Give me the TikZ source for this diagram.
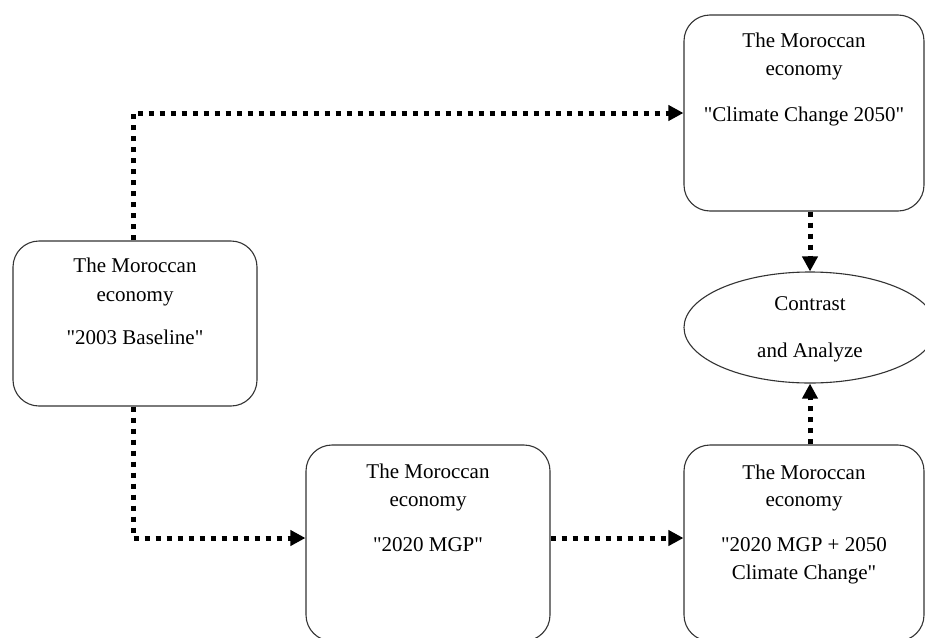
\documentclass[tikz,border=0pt]{standalone}
\usepackage{fontspec}
\setmainfont{Liberation Serif}[Ligatures=TeXOff]
\usetikzlibrary{arrows.meta,shapes.geometric,calc}
\newcommand\dq{\char34\relax}
\begin{document}
\begin{tikzpicture}[x=1pt,y=-1pt,
  box/.style={draw=black!80,line width=1.1pt,rounded corners=26pt,fill=white,minimum width=244pt,inner sep=0pt},
  oval/.style={draw=black!80,line width=1.1pt,ellipse,fill=white,minimum width=252pt,minimum height=111pt,inner sep=0pt},
  txt/.style={anchor=base,inner sep=0pt,font=\fontsize{21}{25}\selectfont},
  link/.style={line width=5pt,dash pattern=on 5pt off 6pt,black,-{Triangle[length=15pt,width=15pt]}}
]
\path[use as bounding box,clip] (0,0) rectangle (925,637);
\fill[white] (0,0) rectangle (925,637);
% boxes
\node[box,minimum height=165pt] (b1) at (135,323.5) {};
\node[box,minimum width=240pt,minimum height=196pt] (tr) at (804,113) {};
\node[box,minimum height=196pt] (mgp) at (428,543) {};
\node[box,minimum width=240pt,minimum height=196pt] (br) at (804,543) {};
\node[oval] (el) at (810,327.5) {};
% texts
\node[txt] (b1a) at ($(b1.north)+(0,32)$) {The Moroccan};
\node[txt] (b1b) at ($(b1.north)+(0,61)$) {economy};
\node[txt] (b1c) at ($(b1.north)+(0,104)$) {\dq2003 Baseline\dq};
\node[txt] (tra) at ($(tr.north)+(0,33)$) {The Moroccan};
\node[txt] (trb) at ($(tr.north)+(0,61)$) {economy};
\node[txt] (trc) at ($(tr.north)+(0,107)$) {\dq Climate Change 2050\dq};
\node[txt] (mga) at ($(mgp.north)+(0,34)$) {The Moroccan};
\node[txt] (mgb) at ($(mgp.north)+(0,62)$) {economy};
\node[txt] (mgc) at ($(mgp.north)+(0,107)$) {\dq2020 MGP\dq};
\node[txt] (bra) at ($(br.north)+(0,35)$) {The Moroccan};
\node[txt] (brb) at ($(br.north)+(0,62)$) {economy};
\node[txt] (brc) at ($(br.north)+(0,107)$) {\dq2020 MGP + 2050};
\node[txt] (brd) at ($(br.north)+(0,135)$) {Climate Change\dq};
\node[txt] (ela) at ($(el.center)+(0,-17)$) {Contrast};
\node[txt] (elb) at ($(el.center)+(0,30)$) {and Analyze};
% connectors
\draw[link] ($(b1.north)+(-2,0)$) |- (tr.west);
\draw[link] ($(b1.south)+(-2,0)$) |- ($(mgp.west)+(0,-5)$);
\draw[link] ($(mgp.east)+(0,-5)$) -- ($(br.west)+(0,-5)$);
\draw[link] (el.north |- tr.south) -- (el.north);
\draw[link] (el.south |- br.north) -- (el.south);
\end{tikzpicture}
\end{document}
